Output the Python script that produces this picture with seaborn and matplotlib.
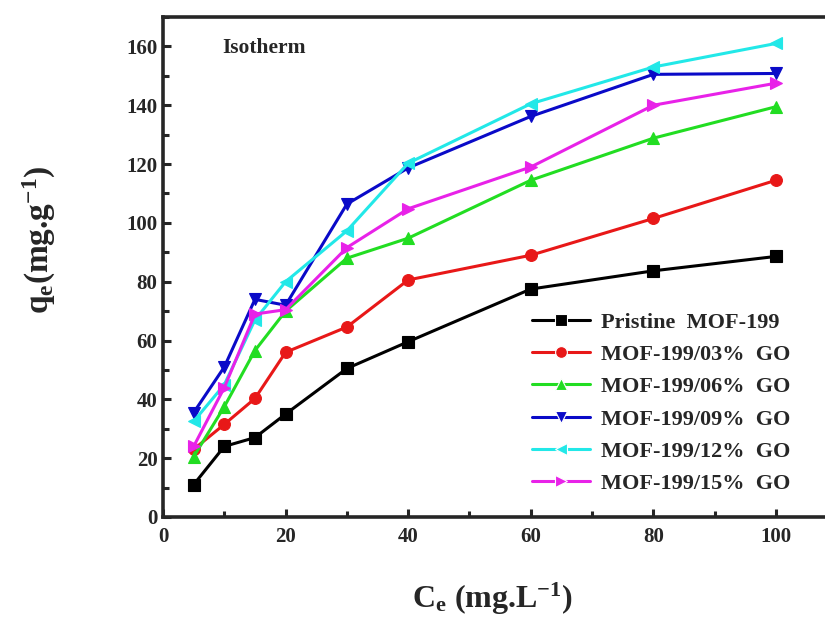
import matplotlib
matplotlib.use("Agg")
import matplotlib.pyplot as plt
from matplotlib.ticker import MultipleLocator
import seaborn as sns
import pandas as pd

# ---- data ----
ce = [5, 10, 15, 20, 30, 40, 60, 80, 100]
pristine = [11, 24, 27, 35, 50.5, 59.6, 77.5, 83.7, 88.6]
go03 = [23, 31.5, 40.3, 56, 64.6, 80.6, 89, 101.5, 114.5]
go06 = [20.5, 37.5, 56.6, 70, 88, 94.8, 114.5, 128.8, 139.5]
go09 = [35.5, 51, 74, 72, 106.4, 118.7, 136.2, 150.5, 150.8]
go12 = [32.5, 45, 67, 80, 97.3, 120.3, 140.5, 153, 161]
go15 = [24, 44, 69, 70.5, 91.6, 104.8, 119, 140, 147.5]

series_names = ["Pristine  MOF-199", "MOF-199/03%  GO", "MOF-199/06%  GO",
                "MOF-199/09%  GO", "MOF-199/12%  GO", "MOF-199/15%  GO"]
series_values = [pristine, go03, go06, go09, go12, go15]
colors = ["#000000", "#E81818", "#22DD22", "#0A0AC8", "#22E8E8", "#E822E8"]
markers = ["s", "o", "^", "v", "<", ">"]

rows = []
for name, vals in zip(series_names, series_values):
    for x, y in zip(ce, vals):
        rows.append({"Ce": x, "qe": y, "sample": name})
df = pd.DataFrame(rows)

sns.set_style("ticks")
plt.rcParams["font.family"] = ["Liberation Serif", "DejaVu Serif"]
plt.rcParams["font.weight"] = "bold"
plt.rcParams["mathtext.fontset"] = "custom"
plt.rcParams["mathtext.rm"] = "Liberation Serif:bold"
plt.rcParams["mathtext.it"] = "Liberation Serif:bold"
plt.rcParams["mathtext.bf"] = "Liberation Serif:bold"

fig = plt.figure(figsize=(8.25, 6.17), dpi=100)
W, H = 825, 617
left_px, right_px, top_px, bot_px = 163, 825, 17, 517
ax = fig.add_axes([left_px / W, (H - bot_px) / H, (right_px - left_px) / W, (bot_px - top_px) / H])

sns.lineplot(data=df, x="Ce", y="qe", hue="sample", style="sample",
             hue_order=series_names, style_order=series_names,
             palette=dict(zip(series_names, colors)),
             markers=dict(zip(series_names, markers)),
             dashes=False, markersize=8.5, linewidth=2.2,
             markeredgewidth=0.8, ax=ax)

for l, c in zip(ax.lines, colors):
    l.set_markeredgecolor(c)

ax.set_xlim(0, (right_px - left_px) / 6.13)
ax.set_ylim(0, 170)
ax.xaxis.set_major_locator(MultipleLocator(20))
ax.xaxis.set_minor_locator(MultipleLocator(10))
ax.yaxis.set_major_locator(MultipleLocator(20))
ax.yaxis.set_minor_locator(MultipleLocator(10))
ax.set_xticks([0, 20, 40, 60, 80, 100])
ax.tick_params(axis="both", which="major", direction="in", length=6, width=2.2,
               labelsize=15, top=False, right=False)
ax.tick_params(axis="both", which="minor", direction="in", length=4, width=2.2,
               top=False, right=False)
ax.tick_params(axis="x", which="major", pad=7)
ax.tick_params(axis="y", which="major", pad=4)
for lab in ax.get_xticklabels() + ax.get_yticklabels():
    lab.set_fontweight("bold")

for s in ["left", "bottom", "top"]:
    ax.spines[s].set_linewidth(2.6)
ax.spines["right"].set_visible(False)

ax.set_xlabel(r"C$_\mathregular{e}$ (mg.L$^\mathregular{-1}$)", fontsize=23, fontweight="bold")
ax.set_ylabel(r"q$_\mathregular{e}$(mg.g$^\mathregular{-1}$)", fontsize=24, fontweight="bold")
ax.xaxis.set_label_coords((492 - left_px) / (right_px - left_px), (bot_px - 581) / (bot_px - top_px))
ax.yaxis.set_label_coords((58 - left_px) / (right_px - left_px), (bot_px - 240) / (bot_px - top_px))

ax.text((222 - left_px) / (right_px - left_px), (bot_px - 48) / (bot_px - top_px), "Isotherm",
        transform=ax.transAxes, fontsize=15.5, fontweight="bold", va="center", ha="left")

handles, labels = ax.get_legend_handles_labels()
leg = ax.legend(handles, labels, loc="upper left",
                bbox_to_anchor=((532 - left_px) / (right_px - left_px), (bot_px - 312) / (bot_px - top_px)),
                frameon=False, handlelength=2.6, handletextpad=0.5,
                labelspacing=0.53, borderpad=0, borderaxespad=0,
                prop={"weight": "bold", "size": 16})

fig.savefig("out.png", dpi=100)
